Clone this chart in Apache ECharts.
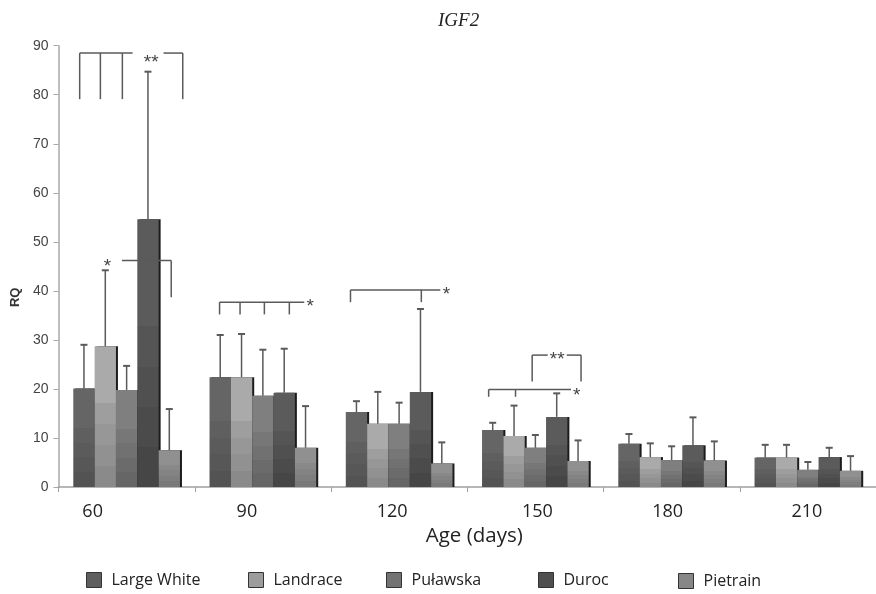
<!DOCTYPE html>
<html>
<head>
<meta charset="utf-8">
<script src="https://cdn.jsdelivr.net/npm/echarts@6/dist/echarts.min.js"></script>
<style>html,body{margin:0;padding:0;background:#fff;}#main{width:876px;height:594px;}</style>
</head>
<body>
<div id="main"></div>
<script>
// ---- data ----
const categories = ['60', '90', '120', '150', '180', '210'];
const seriesNames = ['Large White', 'Landrace', 'Puławska', 'Duroc', 'Pietrain'];
const largeWhite   = [20.1, 22.4, 15.3, 11.6, 8.8, 6.0];
const largeWhiteSD = [8.9, 8.6, 2.2, 1.5, 2.0, 2.6];
const landrace     = [28.7, 22.4, 12.9, 10.4, 6.1, 6.0];
const landraceSD   = [15.5, 8.8, 6.5, 6.2, 2.8, 2.6];
const pulawska     = [19.8, 18.6, 12.9, 8.0, 5.5, 3.5];
const pulawskaSD   = [4.9, 9.4, 4.3, 2.6, 2.8, 1.6];
const duroc        = [54.6, 19.2, 19.4, 14.3, 8.5, 6.1];
const durocSD      = [30.1, 9.0, 16.9, 4.8, 5.7, 1.9];
const pietrain     = [7.5, 8.0, 4.8, 5.3, 5.4, 3.3];
const pietrainSD   = [8.4, 8.5, 4.3, 4.2, 3.9, 3.0];
const yTicks = [0, 90, 10]; // min, max, interval

// significance annotations: [category, slotFrom, value, slotTo, value] (slot = bar position, -2..2)
const sigLines = [
  [0, -2.2, 88.5, 0.28, 88.5], [0, 1.73, 88.5, 2.63, 88.5],
  [0, -2.2, 88.5, -2.2, 79.1], [0, -1.23, 88.5, -1.23, 79.1], [0, -0.2, 88.5, -0.2, 79.1], [0, 2.63, 88.5, 2.63, 79.1],
  [0, -0.22, 46.2, 2.09, 46.2], [0, 2.09, 46.2, 2.09, 38.7],
  [1, -2.03, 37.7, 1.94, 37.7],
  [1, -2.03, 37.7, -2.03, 35.2], [1, -1.07, 37.7, -1.07, 35.2], [1, 0.07, 37.7, 0.07, 35.2], [1, 1.24, 37.7, 1.24, 35.2],
  [2, -2.28, 40.2, 1.93, 40.2], [2, -2.28, 40.2, -2.28, 37.7], [2, 1.04, 40.2, 1.04, 37.7],
  [3, -2.19, 19.9, 1.67, 19.9], [3, -2.19, 19.9, -2.19, 18.4], [3, -0.93, 19.9, -0.93, 18.4],
  [3, -0.15, 26.9, 0.58, 26.9], [3, 1.47, 26.9, 2.14, 26.9], [3, -0.15, 26.9, -0.15, 21.5], [3, 2.14, 26.9, 2.14, 21.5]
];
const sigStars = [
  [0, 1.15, 87.5], [0, -0.9, 45.9], [1, 2.22, 37.7], [2, 2.22, 40.2], [3, 1.94, 19.6], [3, 1.02, 26.9]
];
const sigStarText = ['**', '*', '*', '*', '*', '**'];

// ---- styles / layout ----
const BAR_FRAC = 0.1566;
const bandColors = [
  ['#656565', '#5f5f5f', '#5b5b5b', '#575757', '#535353'],
  ['#aaaaaa', '#9e9e9e', '#979797', '#919191', '#8a8a8a'],
  ['#7f7f7f', '#777777', '#717171', '#6b6b6b', '#666666'],
  ['#5b5b5b', '#555555', '#505050', '#4b4b4b', '#464646'],
  ['#909090', '#898989', '#838383', '#7e7e7e', '#797979']
];
const legendColors = ['#5e5e5e', '#9c9c9c', '#737373', '#4f4f4f', '#878787'];
const legendLeft = [86, 248, 386, 538, 678];
const legendTop = [572, 572, 572, 572, 573];
const xLabelShift = [-34, -16, -7, 2, -4, -1];
const bandStops = [0, 0.4, 0.55, 0.7, 0.85, 1];

function bandGradient(cols) {
  const stops = [];
  for (let i = 0; i < cols.length; i++) {
    stops.push({ offset: bandStops[i], color: cols[i] });
    stops.push({ offset: bandStops[i + 1], color: cols[i] });
  }
  return new echarts.graphic.LinearGradient(0, 0, 0, 1, stops);
}

const means = [largeWhite, landrace, pulawska, duroc, pietrain];
const sds = [largeWhiteSD, landraceSD, pulawskaSD, durocSD, pietrainSD];

const errData = [];
means.forEach((arr, si) => arr.forEach((m, ci) => errData.push([ci, m, sds[si][ci], si])));

const chart = echarts.init(document.getElementById('main'));

const barSeries = seriesNames.map((name, si) => ({
  name: name,
  type: 'bar',
  data: means[si],
  barWidth: (BAR_FRAC * 100) + '%',
  barGap: '0%',
  z: 2,
  itemStyle: {
    color: bandGradient(bandColors[si]),
    shadowColor: '#1c1c1c',
    shadowOffsetX: 2,
    shadowOffsetY: 0,
    shadowBlur: 0
  }
}));

const rich = {};
xLabelShift.forEach((d, i) => {
  rich['s' + i] = {
    fontFamily: 'Open Sans', fontSize: 18, color: '#222',
    padding: d < 0 ? [0, -2 * d, 0, 0] : [0, 0, 0, 2 * d]
  };
});

const option = {
  animation: false,
  backgroundColor: '#ffffff',
  title: {
    text: 'IGF2',
    left: 433, top: 6,
    textStyle: { fontFamily: 'Liberation Serif', fontStyle: 'italic', fontWeight: 'normal', fontSize: 19, color: '#222' }
  },
  legend: seriesNames.map((n, i) => ({
    data: [n],
    left: legendLeft[i], top: legendTop[i],
    padding: 0,
    itemWidth: 15, itemHeight: 15,
    icon: 'rect',
    selectedMode: false,
    itemStyle: { color: legendColors[i], borderColor: '#333', borderWidth: 1, shadowBlur: 0, shadowOffsetX: 0, shadowColor: 'rgba(0,0,0,0)' },
    textStyle: { fontFamily: 'Open Sans', fontSize: 16, color: '#222', padding: [0, 0, 0, 5] }
  })),
  grid: { left: 58.5, top: 45.7, width: 820.5, height: 441.3, containLabel: false },
  xAxis: {
    type: 'category',
    data: categories,
    boundaryGap: true,
    name: 'Age (days)',
    nameLocation: 'middle',
    nameGap: 36,
    nameTextStyle: { fontFamily: 'Open Sans', fontSize: 20.5, color: '#222', padding: [0, 0, 0, 14] },
    axisLine: { show: true, lineStyle: { color: '#a0a0a0', width: 1.5 } },
    axisTick: { show: true, inside: false, length: 5, lineStyle: { color: '#a0a0a0' } },
    axisLabel: {
      margin: 16,
      formatter: (v, i) => '{s' + i + '|' + v + '}',
      rich: rich
    },
    splitLine: { show: false }
  },
  yAxis: {
    type: 'value',
    min: yTicks[0], max: yTicks[1], interval: yTicks[2],
    name: 'RQ',
    nameLocation: 'middle',
    nameRotate: 90,
    nameGap: 37,
    nameTextStyle: { fontFamily: 'Liberation Sans', fontWeight: 'bold', fontSize: 13, color: '#333', padding: [0, 62, 0, 0] },
    axisLine: { show: true, lineStyle: { color: '#a8a8a8', width: 1.5 } },
    axisTick: { show: true, inside: false, length: 5, lineStyle: { color: '#a8a8a8' } },
    axisLabel: { margin: 10, fontFamily: 'Liberation Sans', fontSize: 14, color: '#444' },
    splitLine: { show: false }
  },
  series: barSeries.concat([
    {
      name: 'errors',
      type: 'custom',
      z: 4,
      silent: true,
      encode: { x: 0, y: 1 },
      data: errData,
      renderItem: function (params, api) {
        const cat = api.value(0), m = api.value(1), sd = api.value(2), si = api.value(3);
        const band = api.size([1, 0])[0];
        const bw = band * BAR_FRAC;
        const p1 = api.coord([cat, m]);
        const p2 = api.coord([cat, m + sd]);
        const x = p1[0] + (si - 2) * bw;
        return {
          type: 'group',
          children: [
            { type: 'line', shape: { x1: x, y1: p1[1], x2: x, y2: p2[1] }, style: { stroke: '#5a5a5a', lineWidth: 1.5 } },
            { type: 'line', shape: { x1: x - 3.5, y1: p2[1], x2: x + 3.5, y2: p2[1] }, style: { stroke: '#5a5a5a', lineWidth: 2 } }
          ]
        };
      }
    },
    {
      name: 'sigLines',
      type: 'custom',
      z: 5,
      silent: true,
      encode: { x: 0, y: 2 },
      data: sigLines,
      renderItem: function (params, api) {
        const cat = api.value(0);
        const band = api.size([1, 0])[0];
        const bw = band * BAR_FRAC;
        const a = api.coord([cat, api.value(2)]);
        const b = api.coord([cat, api.value(4)]);
        return {
          type: 'line',
          shape: { x1: a[0] + api.value(1) * bw, y1: a[1], x2: b[0] + api.value(3) * bw, y2: b[1] },
          style: { stroke: '#5a5a5a', lineWidth: 1.5 }
        };
      }
    },
    {
      name: 'sigStars',
      type: 'custom',
      z: 5,
      silent: true,
      encode: { x: 0, y: 2 },
      data: sigStars,
      renderItem: function (params, api) {
        const cat = api.value(0);
        const band = api.size([1, 0])[0];
        const bw = band * BAR_FRAC;
        const p = api.coord([cat, api.value(2)]);
        return {
          type: 'text',
          style: {
            x: p[0] + api.value(1) * bw, y: p[1] + 5,
            text: sigStarText[params.dataIndex],
            align: 'center', verticalAlign: 'middle',
            font: '19px "Liberation Sans"', fill: '#444'
          }
        };
      }
    }
  ])
};
chart.setOption(option);
</script>
</body>
</html>
